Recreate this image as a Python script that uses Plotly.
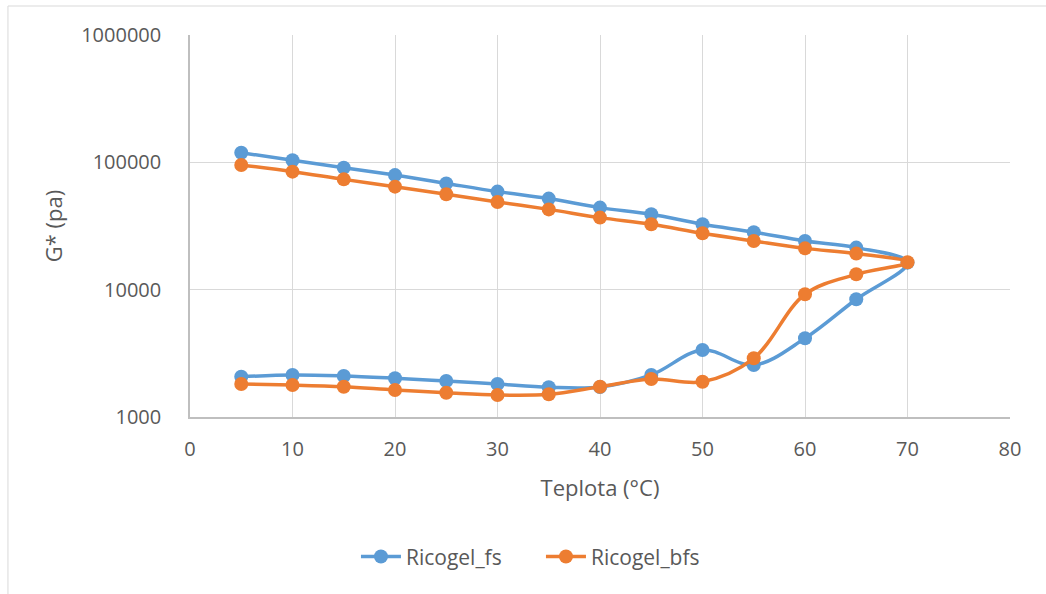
import plotly.graph_objects as go

# Temperature sequence: heating 5 -> 70, then cooling 65 -> 5
temp = [5, 10, 15, 20, 25, 30, 35, 40, 45, 50, 55, 60, 65, 70,
        65, 60, 55, 50, 45, 40, 35, 30, 25, 20, 15, 10, 5]

ricogel_fs = [2070, 2140, 2100, 2015, 1918, 1815, 1712, 1720, 2140, 3360, 2560, 4150, 8410, 16300,
              21400, 24100, 28300, 32600, 39100, 44100, 51900, 58900, 68300, 79400, 90800, 103700, 119000]

ricogel_bfs = [1815, 1783, 1730, 1630, 1552, 1489, 1507, 1730, 1990, 1893, 2890, 9200, 13200, 16400,
               19200, 21100, 24100, 27700, 32600, 36800, 42700, 48800, 56100, 64400, 73500, 84500, 95300]

y_tickvals = [1000, 10000, 100000, 1000000]
y_ticktext = ["1000", "10000", "100000", "1000000"]
x_tickvals = [0, 10, 20, 30, 40, 50, 60, 70, 80]

FONT = "Open Sans"
TXT = "#595959"

fig = go.Figure()
fig.add_trace(go.Scatter(
    x=temp, y=ricogel_fs, name="Ricogel_fs", mode="lines+markers",
    line=dict(color="#5B9BD5", width=3.5, shape="spline", smoothing=1),
    marker=dict(color="#5B9BD5", size=14),
))
fig.add_trace(go.Scatter(
    x=temp, y=ricogel_bfs, name="Ricogel_bfs", mode="lines+markers",
    line=dict(color="#ED7D31", width=3.5, shape="spline", smoothing=1),
    marker=dict(color="#ED7D31", size=14),
))

fig.update_layout(
    width=1046, height=594,
    margin=dict(l=190, r=36, t=35, b=177),
    paper_bgcolor="white", plot_bgcolor="white",
    font=dict(family=FONT, color=TXT, size=21),
    showlegend=True,
    legend=dict(orientation="h", x=0.428, y=-0.366, xanchor="center", yanchor="middle",
                font=dict(size=21, color=TXT), itemwidth=40, tracegroupgap=0,
                entrywidth=130, entrywidthmode="pixels"),
    xaxis=dict(
        range=[0, 80], tickvals=x_tickvals, showgrid=True, gridcolor="#D9D9D9", gridwidth=1,
        showline=True, linecolor="#BFBFBF", linewidth=1.5, zeroline=False, ticks="",
        tickfont=dict(size=20, color=TXT), ticklabelstandoff=13,
        title=dict(text="Teplota (°C)", font=dict(size=22, color=TXT), standoff=20),
    ),
    yaxis=dict(
        type="log", range=[3, 6], tickvals=y_tickvals, ticktext=y_ticktext,
        showgrid=True, gridcolor="#D9D9D9", gridwidth=1,
        showline=True, linecolor="#BFBFBF", linewidth=1.5, zeroline=False, ticks="",
        tickfont=dict(size=20, color=TXT), ticklabelstandoff=23,
        title=dict(text="G* (pa)", font=dict(size=22, color=TXT), standoff=12),
    ),
    shapes=[dict(type="rect", xref="paper", yref="paper",
                 x0=-0.222, x1=1.1, y0=-0.6, y1=1.0759,
                 line=dict(color="#D9D9D9", width=1), layer="below")],
)

fig.write_html("out.html")
